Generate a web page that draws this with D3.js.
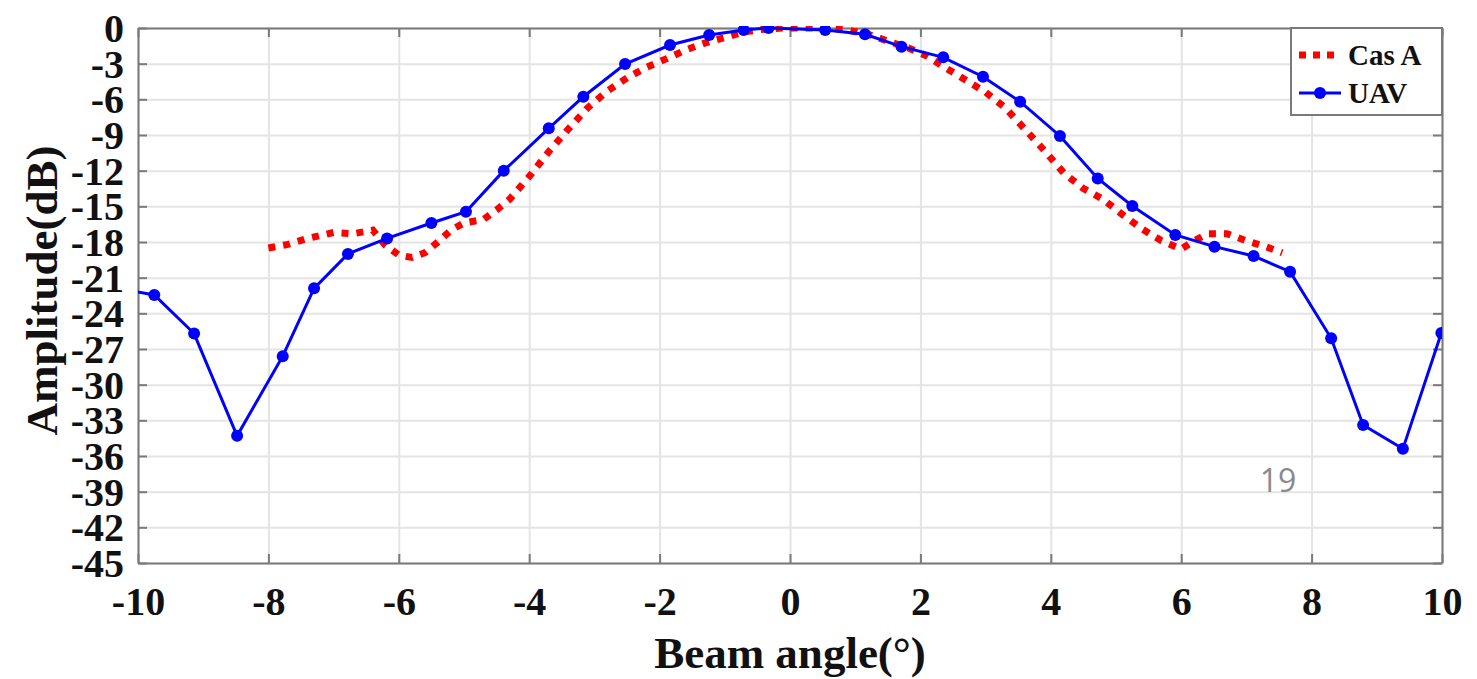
<!DOCTYPE html>
<html lang="en">
<head>
<meta charset="utf-8">
<title>Beam pattern</title>
<style>
  body { margin: 0; background: #fff; }
  .tick text { font-family: "Liberation Serif", "Times New Roman", serif; font-weight: bold; }
  .lbl { font-family: "Liberation Serif", "Times New Roman", serif; font-weight: bold; fill: #111; }
</style>
</head>
<body>
<script src="https://d3js.org/d3.v7.min.js"></script>
<script>
  const W = 1477, H = 679;
  const m = {left: 138, right: 35, top: 28, bottom: 116};
  const w = W - m.left - m.right, h = H - m.top - m.bottom;

  // Cas A (dotted red)
  const casX = [-8.0,-7.7,-7.4,-7.0,-6.7,-6.4,-6.2,-6.0,-5.8,-5.6,-5.4,-5.2,-5.0,-4.7,-4.5,-4.3,-4.0,-3.7,-3.4,-3.1,-2.8,-2.5,-2.2,-1.9,-1.6,-1.3,-1.0,-0.7,-0.4,-0.1,0.3,0.6,0.9,1.2,1.5,1.8,2.1,2.4,2.7,3.0,3.3,3.6,3.9,4.2,4.5,4.8,5.1,5.4,5.7,6.0,6.2,6.4,6.7,7.0,7.3,7.55];
  const casY = [-18.5,-18.2,-17.7,-17.2,-17.3,-17.0,-18.3,-19.1,-19.3,-18.9,-18.0,-17.0,-16.4,-16.1,-15.3,-14.4,-12.5,-10.4,-8.5,-6.7,-5.3,-4.2,-3.3,-2.6,-1.85,-1.25,-0.8,-0.32,-0.1,0,0,0,-0.2,-0.53,-1.1,-1.65,-2.35,-3.4,-4.4,-5.4,-6.7,-8.5,-10.3,-12.2,-13.5,-14.4,-15.7,-16.9,-17.9,-18.6,-17.9,-17.3,-17.3,-17.9,-18.4,-18.9];

  // UAV (blue with markers)
  const uavX = [-10.35,-9.75,-9.14,-8.48,-7.78,-7.30,-6.78,-6.18,-5.50,-4.97,-4.39,-3.70,-3.17,-2.53,-1.84,-1.24,-0.71,-0.33,0.54,1.15,1.71,2.35,2.96,3.53,4.14,4.72,5.25,5.91,6.51,7.11,7.67,8.30,8.79,9.40,9.99];
  const uavY = [-21.85,-22.45,-25.7,-34.3,-27.6,-21.9,-19.0,-17.7,-16.4,-15.45,-12.0,-8.44,-5.78,-3.03,-1.43,-0.59,-0.17,0,-0.17,-0.53,-1.57,-2.47,-4.1,-6.2,-9.08,-12.65,-14.97,-17.41,-18.39,-19.18,-20.5,-26.1,-33.4,-35.4,-25.66];

  const xTicks = [-10,-8,-6,-4,-2,0,2,4,6,8,10];
  const yTicks = [0,-3,-6,-9,-12,-15,-18,-21,-24,-27,-30,-33,-36,-39,-42,-45];

  const cas = casX.map((x, i) => ({x, y: casY[i]}));
  const uav = uavX.map((x, i) => ({x, y: uavY[i]}));

  const svg = d3.select("body").append("svg")
      .attr("width", W).attr("height", H);

  const g = svg.append("g").attr("transform", `translate(${m.left},${m.top})`);

  const x = d3.scaleLinear().domain([-10, 10]).range([0, w]);
  const y = d3.scaleLinear().domain([-45, 0]).range([h, 0]);
  const fmt = d => String(d); // plain hyphen minus like the original

  // grid
  g.append("g").attr("transform", `translate(0,${h})`)
    .call(d3.axisBottom(x).tickValues(xTicks).tickSize(-h).tickFormat(""))
    .call(s => s.select(".domain").remove())
    .selectAll("line").attr("stroke", "#e4e4e4").attr("stroke-width", 2);
  g.append("g")
    .call(d3.axisLeft(y).tickValues(yTicks).tickSize(-w).tickFormat(""))
    .call(s => s.select(".domain").remove())
    .selectAll("line").attr("stroke", "#e4e4e4").attr("stroke-width", 2);

  // box with inward ticks
  const axStyle = s => {
    s.select(".domain").attr("stroke", "#7a7a7a").attr("stroke-width", 2);
    s.selectAll(".tick line").attr("stroke", "#7a7a7a").attr("stroke-width", 2);
  };
  g.append("g").attr("transform", `translate(0,${h})`)
    .call(d3.axisBottom(x).tickValues(xTicks).tickFormat(fmt).tickSizeInner(-9).tickSizeOuter(0).tickPadding(24))
    .call(axStyle)
    .selectAll("text").attr("font-size", 40).attr("fill", "#111");
  g.append("g")
    .call(d3.axisTop(x).tickValues(xTicks).tickSizeInner(-9).tickSizeOuter(0).tickFormat(""))
    .call(axStyle);
  g.append("g")
    .call(d3.axisLeft(y).tickValues(yTicks).tickFormat(fmt).tickSizeInner(-9).tickSizeOuter(0).tickPadding(14))
    .call(axStyle)
    .selectAll("text").attr("font-size", 40).attr("fill", "#111").attr("dy", "0.34em");
  g.append("g").attr("transform", `translate(${w},0)`)
    .call(d3.axisRight(y).tickValues(yTicks).tickSizeInner(-9).tickSizeOuter(0).tickFormat(""))
    .call(axStyle);

  // clip
  svg.append("defs").append("clipPath").attr("id", "plot")
    .append("rect").attr("width", w).attr("height", h + 2).attr("y", -2);

  const line = d3.line().x(d => x(d.x)).y(d => y(d.y));
  const plot = g.append("g").attr("clip-path", "url(#plot)");

  plot.append("path").datum(cas)
    .attr("d", line)
    .attr("fill", "none")
    .attr("stroke", "#ff0000")
    .attr("stroke-width", 7)
    .attr("stroke-dasharray", "7,8");

  plot.append("path").datum(uav)
    .attr("d", line)
    .attr("fill", "none")
    .attr("stroke", "#0000ff")
    .attr("stroke-width", 3);

  plot.selectAll("circle").data(uav).join("circle")
    .attr("cx", d => x(d.x)).attr("cy", d => y(d.y))
    .attr("r", 6).attr("fill", "#0000ff");

  // legend
  const lg = g.append("g").attr("transform", `translate(${w - 151},0)`);
  lg.append("rect").attr("width", 151).attr("height", 87)
    .attr("fill", "#fff").attr("stroke", "#7a7a7a").attr("stroke-width", 2);
  lg.append("line").attr("x1", 8).attr("x2", 50).attr("y1", 27).attr("y2", 27)
    .attr("stroke", "#ff0000").attr("stroke-width", 7).attr("stroke-dasharray", "7,7");
  lg.append("line").attr("x1", 8).attr("x2", 50).attr("y1", 65).attr("y2", 65)
    .attr("stroke", "#0000ff").attr("stroke-width", 3);
  lg.append("circle").attr("cx", 29).attr("cy", 65).attr("r", 6).attr("fill", "#0000ff");
  lg.append("text").attr("class", "lbl").attr("x", 57).attr("y", 37).attr("font-size", 29).text("Cas A");
  lg.append("text").attr("class", "lbl").attr("x", 57).attr("y", 75).attr("font-size", 29).text("UAV");

  // axis titles
  svg.append("text").attr("class", "lbl")
    .attr("x", m.left + w / 2).attr("y", 668)
    .attr("text-anchor", "middle").attr("font-size", 45)
    .text("Beam angle(°)");
  svg.append("text").attr("class", "lbl")
    .attr("transform", `translate(57,${m.top + h / 2 - 5}) rotate(-90)`)
    .attr("text-anchor", "middle").attr("font-size", 45)
    .text("Amplitude(dB)");

  // slide page number
  svg.append("text")
    .attr("x", 1278).attr("y", 492).attr("text-anchor", "middle")
    .attr("font-family", "Open Sans, Liberation Sans, sans-serif")
    .attr("font-size", 32).attr("fill", "#8a8a8a")
    .text("19");
</script>
</body>
</html>
